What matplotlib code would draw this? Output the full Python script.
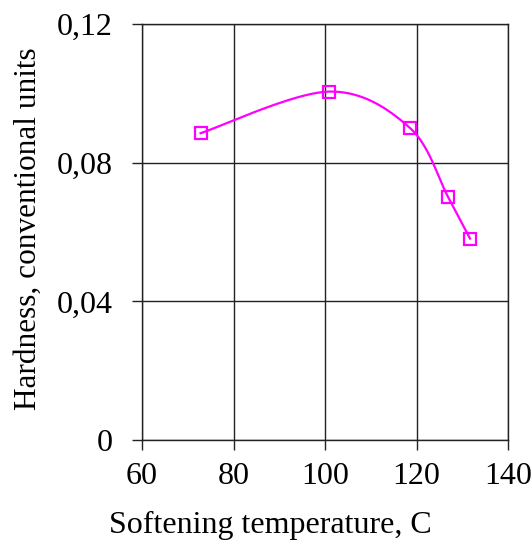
import numpy as np
import matplotlib.pyplot as plt

# softening temperature, C  /  hardness, conventional units
temperature = [72.8, 100.8, 118.5, 126.9, 131.7]
hardness = [0.0885, 0.1005, 0.0901, 0.0701, 0.0581]

x_ticks = [60, 80, 100, 120, 140]
y_ticks = [0, 0.04, 0.08, 0.12]
y_tick_labels = ['0', '0,04', '0,08', '0,12']

plt.rcParams['font.family'] = ['Liberation Serif', 'DejaVu Serif']


def smooth_curve(ax, xs, ys, n=40):
    # excel-like smoothing: cubic bezier with catmull-rom control points,
    # computed in display space so the shape does not depend on axis units
    pts = ax.transData.transform(np.column_stack([xs, ys]))
    p = np.vstack([pts[0], pts, pts[-1]])
    out = []
    for i in range(1, len(p) - 2):
        p0, p1, p2, p3 = p[i - 1], p[i], p[i + 1], p[i + 2]
        c1 = p1 + (p2 - p0) / 6
        c2 = p2 - (p3 - p1) / 6
        t = np.linspace(0, 1, n)[:, None]
        seg = ((1 - t) ** 3) * p1 + 3 * ((1 - t) ** 2) * t * c1 \
            + 3 * (1 - t) * t ** 2 * c2 + t ** 3 * p2
        out.append(seg if i == 1 else seg[1:])
    out = np.vstack(out)
    return ax.transData.inverted().transform(out)


fig = plt.figure(figsize=(5.32, 5.40), dpi=100)
ax = fig.add_axes([142 / 532, 100 / 540, 366 / 532, 416 / 540])

ax.set_xlim(60, 140)
ax.set_ylim(0, 0.12)
ax.set_xticks(x_ticks)
ax.set_yticks(y_ticks)
ax.set_yticklabels(y_tick_labels)
ax.set_xticklabels([str(v) for v in x_ticks])

ax.grid(True, color='#222222', linewidth=1.0)
for s in ax.spines.values():
    s.set_color('#222222')
    s.set_linewidth(1.0)
ax.tick_params(direction='out', width=1.0, color='#222222', labelsize=23)
ax.tick_params(axis='x', length=7, pad=9)
ax.tick_params(axis='y', length=7, pad=14)

curve = smooth_curve(ax, temperature, hardness)
ax.plot(curve[:, 0], curve[:, 1], color='#ff00ff', linewidth=1.6, zorder=3)
ax.plot(temperature, hardness, linestyle='none', marker='s', markersize=8.5,
        markerfacecolor='none', markeredgecolor='#ff00ff',
        markeredgewidth=1.6, zorder=4)

ax.set_xlabel('Softening temperature, C', fontsize=23)
ax.set_ylabel('Hardness, conventional units', fontsize=22.5)
ax.xaxis.set_label_coords(0.352, -0.17)
ax.yaxis.set_label_coords(-0.31, 0.507)
ax.yaxis.label.set_verticalalignment('center')

fig.savefig('out.png', dpi=100)
